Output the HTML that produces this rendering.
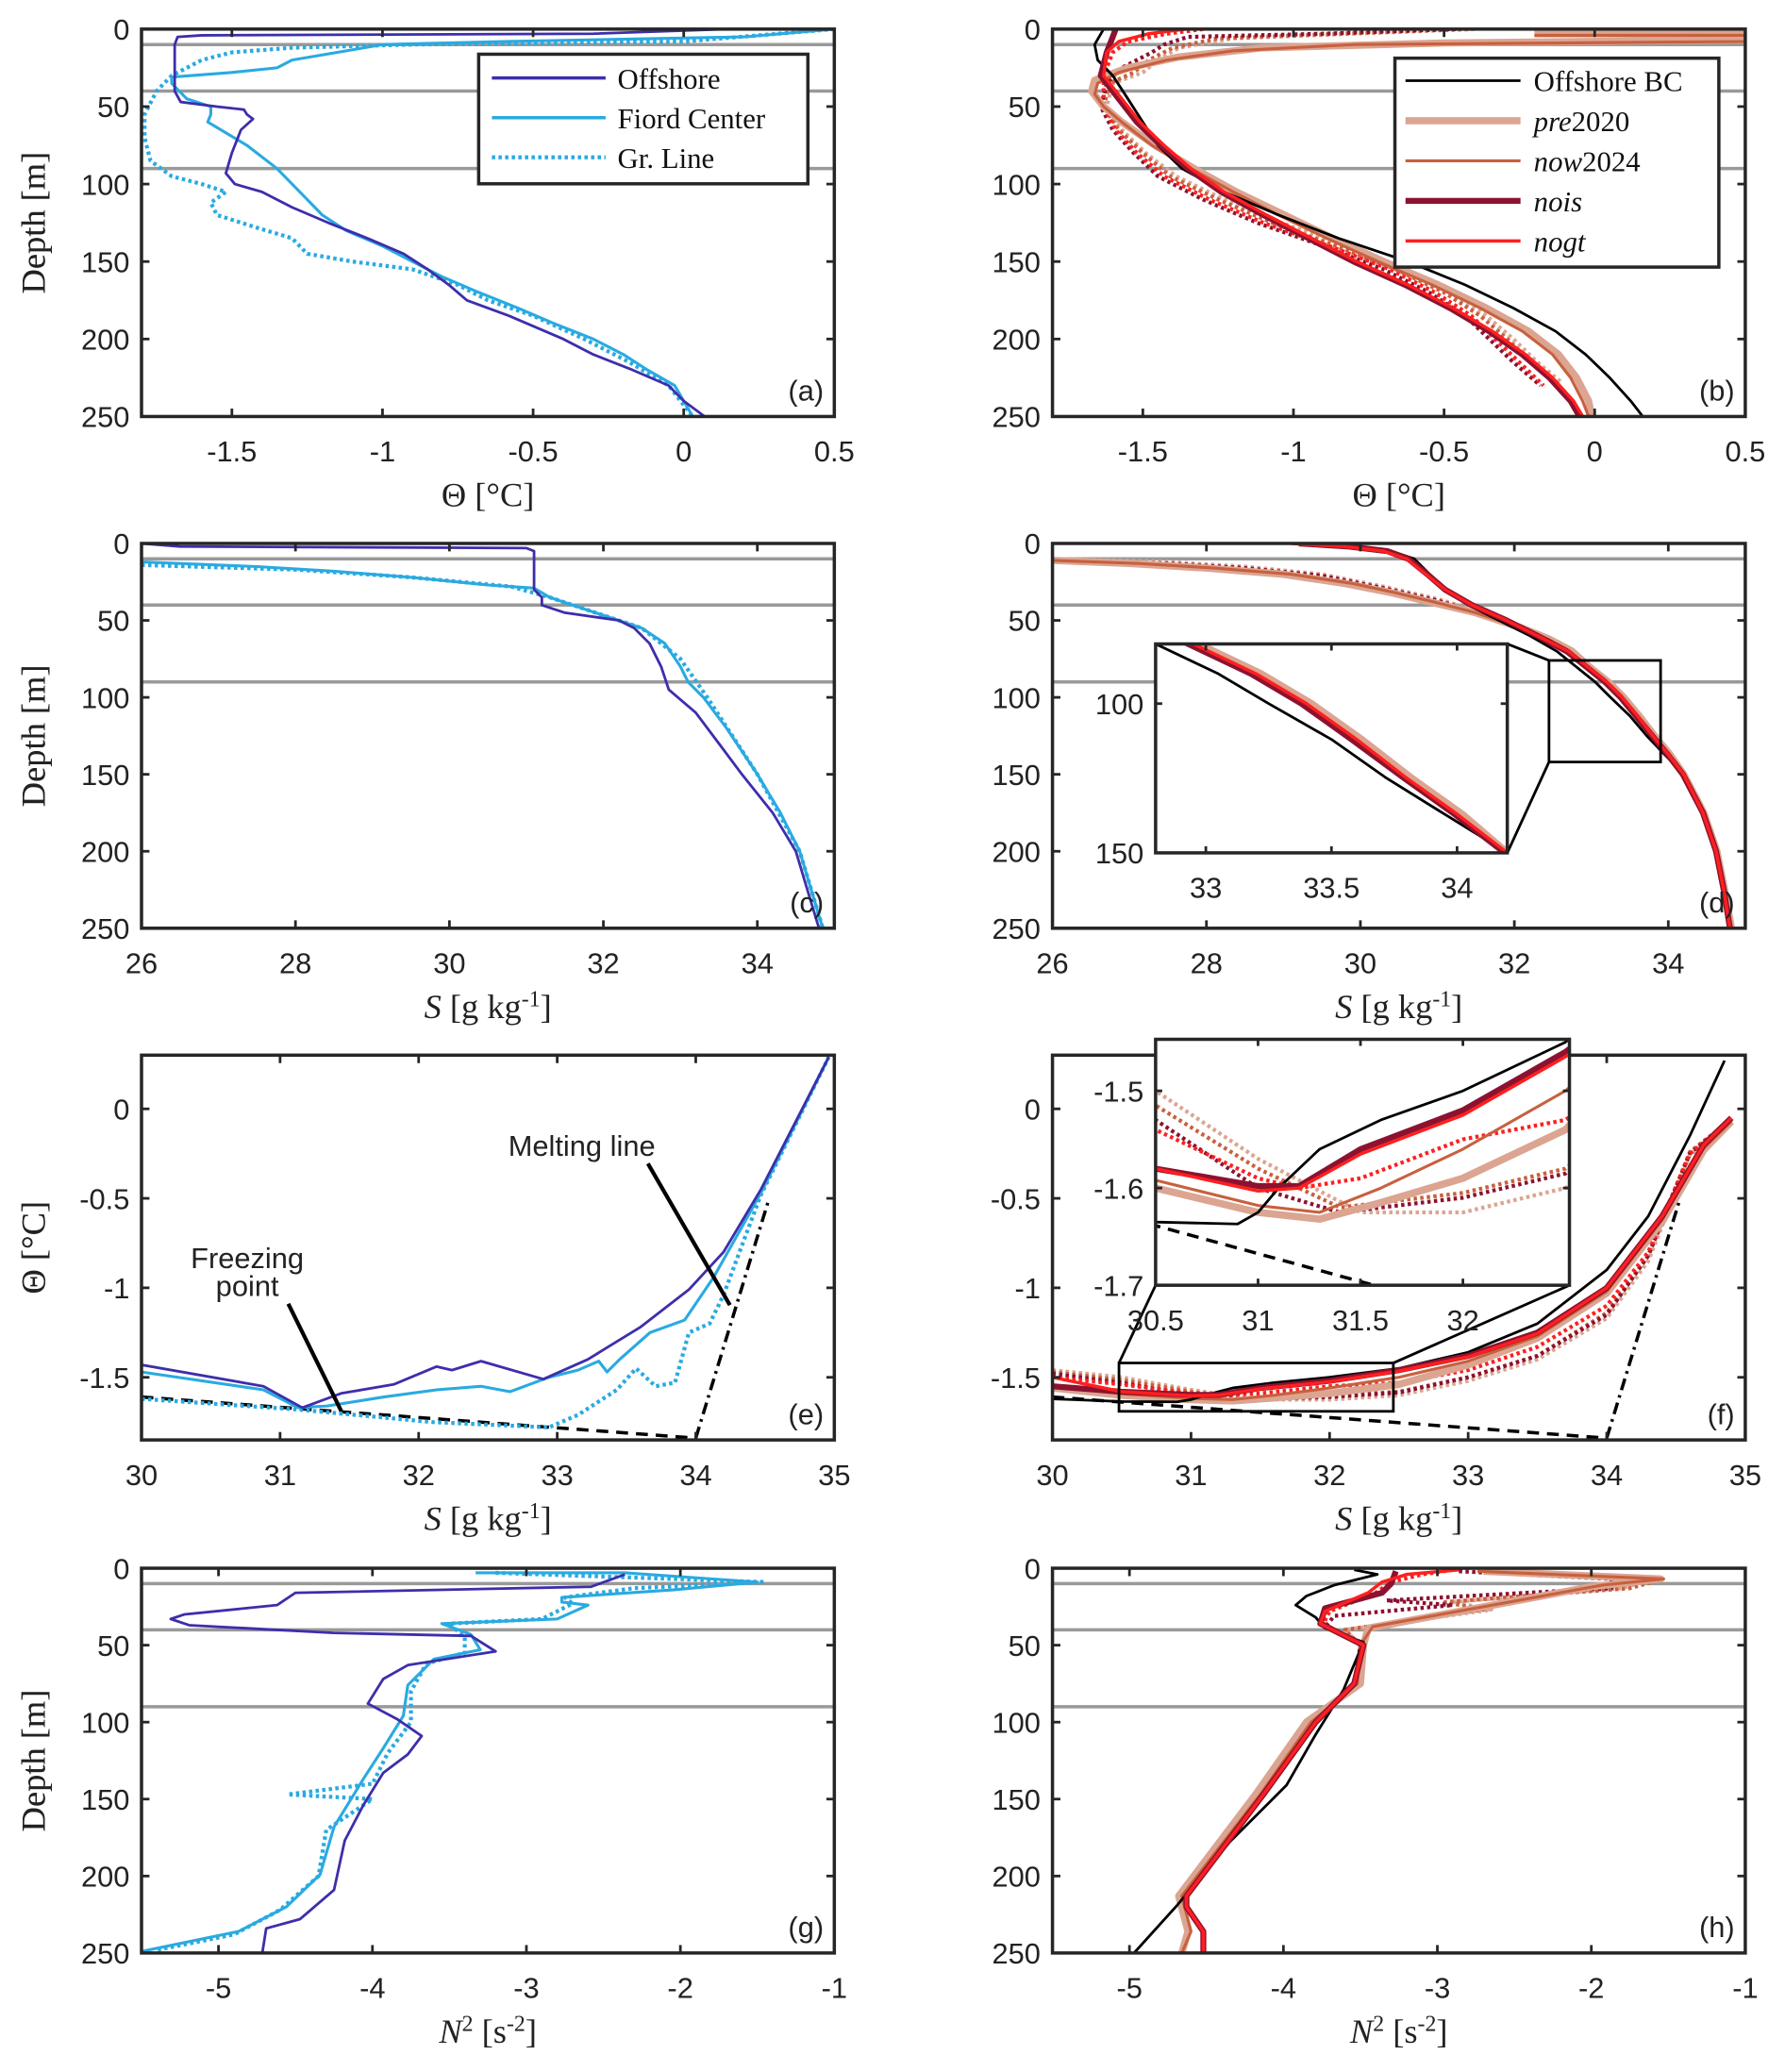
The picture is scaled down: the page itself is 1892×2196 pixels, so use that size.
<!DOCTYPE html>
<html><head><meta charset="utf-8"><style>
html,body{margin:0;padding:0;background:#fff;}
svg{display:block;}
.tk{font-family:"Liberation Sans",sans-serif;font-size:22px;fill:#222;}
.lab{font-family:"Liberation Serif",serif;font-size:26px;fill:#222;}
.lg{font-family:"Liberation Serif",serif;font-size:22px;fill:#111;}
</style></head><body>
<svg id="fig" width="1892" height="2196" viewBox="0 0 1350 1567" xmlns="http://www.w3.org/2000/svg"></svg>
<script>
// ---------- data ----------
const offA=[[0,0.15],[3,-0.3],[4,-1.6],[5,-1.68],[10,-1.69],[40,-1.69],[47,-1.67],[50,-1.55],[52,-1.46],[55,-1.45],[58,-1.43],[65,-1.47],[80,-1.5],[93,-1.52],[100,-1.49],[105,-1.4],[115,-1.3],[125,-1.18],[135,-1.05],[145,-0.93],[155,-0.85],[165,-0.78],[175,-0.72],[185,-0.58],[200,-0.4],[210,-0.3],[220,-0.17],[230,-0.05],[240,0.0],[250,0.07]];
const fioA=[[0,0.5],[5,0.2],[8,-0.6],[10,-1.0],[15,-1.15],[20,-1.3],[25,-1.35],[28,-1.5],[31,-1.7],[35,-1.7],[45,-1.65],[50,-1.57],[55,-1.57],[60,-1.58],[75,-1.45],[90,-1.35],[100,-1.3],[110,-1.25],[120,-1.2],[130,-1.12],[140,-1.0],[150,-0.9],[160,-0.8],[170,-0.68],[180,-0.55],[190,-0.43],[200,-0.3],[210,-0.2],[220,-0.12],[230,-0.03],[250,0.03]];
const grA=[[0,0.5],[8,0.0],[10,-0.9],[12,-1.3],[15,-1.5],[20,-1.6],[30,-1.7],[40,-1.75],[55,-1.79],[70,-1.79],[85,-1.77],[95,-1.7],[100,-1.6],[105,-1.52],[112,-1.57],[120,-1.55],[128,-1.42],[135,-1.3],[145,-1.25],[150,-1.1],[155,-0.9],[165,-0.75],[175,-0.65],[185,-0.5],[200,-0.33],[215,-0.18],[230,-0.05],[250,0.03]];

const blackB=[[0,-1.63],[10,-1.66],[20,-1.65],[30,-1.6],[45,-1.55],[60,-1.5],[75,-1.45],[90,-1.37],[105,-1.23],[120,-1.05],[135,-0.85],[150,-0.62],[165,-0.43],[180,-0.27],[195,-0.13],[210,-0.03],[225,0.05],[240,0.12],[250,0.16]];
const preB=[[3,-0.2],[3,0.5],[7,0.5],[9,-0.5],[12,-1.1],[18,-1.38],[25,-1.55],[33,-1.66],[40,-1.67],[50,-1.63],[60,-1.57],[75,-1.46],[90,-1.33],[105,-1.19],[120,-1.03],[135,-0.87],[150,-0.7],[165,-0.52],[180,-0.36],[195,-0.22],[210,-0.12],[225,-0.06],[240,-0.02],[250,-0.01]];
const nowB=[[4,-0.2],[4,0.5],[8,0.5],[10,-0.8],[14,-1.2],[20,-1.42],[28,-1.58],[35,-1.65],[42,-1.66],[50,-1.63],[60,-1.57],[75,-1.47],[90,-1.34],[105,-1.2],[120,-1.05],[135,-0.89],[150,-0.72],[165,-0.54],[180,-0.38],[195,-0.24],[210,-0.14],[225,-0.08],[240,-0.04],[250,-0.02]];
const noisB=[[0,-1.59],[5,-1.6],[15,-1.62],[30,-1.64],[45,-1.58],[60,-1.52],[75,-1.44],[90,-1.35],[105,-1.24],[120,-1.1],[135,-0.95],[150,-0.8],[165,-0.63],[180,-0.48],[195,-0.35],[210,-0.24],[225,-0.15],[240,-0.08],[250,-0.05]];
const nogtB=[[0,-1.36],[3,-1.48],[8,-1.58],[15,-1.62],[30,-1.63],[45,-1.57],[60,-1.51],[75,-1.43],[90,-1.34],[105,-1.23],[120,-1.09],[135,-0.94],[150,-0.79],[165,-0.62],[180,-0.47],[195,-0.34],[210,-0.23],[225,-0.14],[240,-0.07],[250,-0.04]];
const preDotB=[[0,-0.4],[3,-0.8],[6,-1.2],[12,-1.38],[20,-1.45],[28,-1.5],[35,-1.6],[50,-1.62],[65,-1.57],[80,-1.49],[95,-1.39],[110,-1.23],[125,-1.04],[140,-0.83],[155,-0.63],[170,-0.48],[185,-0.36],[200,-0.27],[215,-0.19],[228,-0.11]];
const nowDotB=[[0,-0.42],[3,-0.85],[6,-1.25],[12,-1.4],[20,-1.48],[28,-1.53],[35,-1.61],[50,-1.63],[65,-1.58],[80,-1.5],[95,-1.41],[110,-1.25],[125,-1.07],[140,-0.86],[155,-0.66],[170,-0.5],[185,-0.38],[200,-0.29],[215,-0.21],[228,-0.13]];
const noisDotB=[[0,-0.46],[3,-0.9],[5,-1.35],[10,-1.43],[15,-1.47],[25,-1.57],[35,-1.62],[50,-1.64],[65,-1.6],[80,-1.53],[95,-1.45],[110,-1.3],[125,-1.12],[140,-0.9],[155,-0.7],[170,-0.55],[185,-0.43],[200,-0.35],[215,-0.27],[230,-0.18]];
const nogtDotB=[[0,-1.3],[3,-1.42],[8,-1.55],[15,-1.6],[25,-1.62],[35,-1.63],[50,-1.63],[65,-1.59],[80,-1.52],[95,-1.43],[110,-1.28],[125,-1.1],[140,-0.88],[155,-0.68],[170,-0.53],[185,-0.41],[200,-0.33],[215,-0.25],[230,-0.17]];

const offC=[[0,26],[2,26.5],[3,31.0],[5,31.1],[30,31.1],[35,31.2],[40,31.2],[45,31.5],[50,32.2],[55,32.4],[65,32.6],[80,32.75],[95,32.85],[110,33.2],[130,33.5],[150,33.8],[175,34.2],[200,34.5],[225,34.65],[250,34.8]];
const fioC=[[12,26],[15,27.5],[18,28.5],[22,29.5],[27,30.5],[29,31.1],[35,31.3],[40,31.6],[50,32.2],[55,32.5],[65,32.8],[80,33.0],[90,33.1],[100,33.3],[120,33.6],[150,34.0],[175,34.3],[200,34.55],[225,34.7],[250,34.85]];
const grC=[[14,26],[17,28],[22,29.5],[28,30.8],[35,31.3],[45,31.9],[55,32.5],[75,33.0],[100,33.35],[150,34.0],[200,34.55],[250,34.85]];

const blackD=[[0,29.4],[2,30.0],[5,30.4],[10,30.7],[20,30.9],[30,31.1],[40,31.4],[50,31.8],[60,32.2],[70,32.55],[80,32.8],[90,33.05],[100,33.25],[112,33.5],[125,33.72],[137,33.95],[150,34.2],[175,34.45],[200,34.6],[225,34.7],[250,34.8]];
const preD=[[11,26],[13,27],[16,28],[20,29],[26,29.8],[32,30.4],[38,30.9],[45,31.5],[55,32.1],[62,32.45],[70,32.75],[80,32.97],[90,33.22],[100,33.42],[112,33.62],[125,33.82],[137,34.02],[150,34.2],[175,34.46],[200,34.63],[225,34.73],[250,34.82]];
const nowD=[[11,26],[13,27.1],[16,28.1],[20,29.1],[26,29.9],[32,30.45],[38,30.95],[45,31.5],[55,32.08],[62,32.43],[70,32.72],[80,32.95],[90,33.2],[100,33.4],[112,33.6],[125,33.8],[137,34.0],[150,34.19],[175,34.45],[200,34.62],[225,34.72],[250,34.8]];
const noisD=[[0,29.2],[2,29.85],[5,30.35],[10,30.62],[20,30.87],[30,31.1],[40,31.45],[50,31.9],[60,32.3],[70,32.68],[80,32.93],[90,33.18],[100,33.38],[112,33.58],[125,33.79],[137,33.99],[150,34.19],[175,34.45],[200,34.62],[225,34.72],[250,34.8]];
const nogtD=[[0,29.1],[2,29.8],[5,30.3],[10,30.6],[20,30.85],[30,31.1],[40,31.45],[50,31.9],[60,32.3],[70,32.7],[80,32.95],[90,33.2],[100,33.4],[112,33.6],[125,33.8],[137,34.0],[150,34.2],[175,34.45],[200,34.62],[225,34.72],[250,34.8]];
const dotD=[[10,26],[12,27.5],[15,28.5],[20,29.5],[28,30.3],[36,31.0],[45,31.6],[55,32.15],[62,32.47],[70,32.76],[80,32.98],[90,33.23],[100,33.43],[112,33.63],[125,33.83],[137,34.03],[150,34.21],[175,34.46],[200,34.63],[225,34.73],[250,34.82]];

const offE=[[30,-1.43],[30.88,-1.55],[31.16,-1.67],[31.44,-1.59],[31.82,-1.54],[32.13,-1.44],[32.24,-1.46],[32.45,-1.41],[32.9,-1.51],[33.22,-1.4],[33.6,-1.22],[33.95,-1.01],[34.2,-0.8],[34.47,-0.45],[34.96,0.29]];
const fioE=[[30,-1.47],[30.88,-1.57],[31.13,-1.67],[31.34,-1.66],[31.75,-1.61],[32.13,-1.57],[32.45,-1.55],[32.66,-1.58],[32.94,-1.5],[33.15,-1.46],[33.3,-1.41],[33.36,-1.47],[33.45,-1.4],[33.67,-1.25],[33.92,-1.18],[34.13,-0.94],[34.47,-0.47],[34.96,0.29]];
const grE=[[30,-1.62],[31.13,-1.68],[32.1,-1.75],[32.94,-1.78],[33.15,-1.71],[33.43,-1.57],[33.57,-1.45],[33.71,-1.55],[33.85,-1.53],[33.95,-1.25],[34.1,-1.2],[34.2,-1.04],[34.34,-0.75],[34.47,-0.48],[34.96,0.29]];
const freezeLine=[[30,-1.61],[34,-1.84]];
const meltLine=[[34,-1.84],[34.53,-0.5]];

const blackF=[[30,-1.62],[30.5,-1.635],[30.9,-1.637],[31.0,-1.625],[31.1,-1.6],[31.3,-1.56],[31.6,-1.53],[32,-1.5],[32.5,-1.45],[33,-1.36],[33.5,-1.2],[34,-0.9],[34.3,-0.6],[34.6,-0.15],[34.85,0.27]];
const preF=[[30,-1.56],[30.5,-1.6],[31,-1.625],[31.3,-1.632],[31.6,-1.615],[32,-1.59],[32.5,-1.54],[33,-1.43],[33.5,-1.28],[34,-1.03],[34.4,-0.63],[34.7,-0.23],[34.9,-0.07]];
const nowF=[[30,-1.55],[30.5,-1.592],[31,-1.618],[31.3,-1.625],[31.6,-1.6],[32,-1.56],[32.5,-1.5],[33,-1.41],[33.5,-1.27],[34,-1.02],[34.4,-0.62],[34.7,-0.22],[34.9,-0.07]];
const noisF=[[30,-1.55],[30.5,-1.58],[31,-1.598],[31.2,-1.598],[31.5,-1.56],[32,-1.52],[32.5,-1.46],[33,-1.38],[33.5,-1.25],[34,-1.0],[34.4,-0.6],[34.7,-0.2],[34.9,-0.05]];
const nogtF=[[30,-1.5],[30.5,-1.58],[31,-1.603],[31.2,-1.6],[31.5,-1.565],[32,-1.525],[32.5,-1.465],[33,-1.385],[33.5,-1.255],[34,-1.0],[34.4,-0.6],[34.7,-0.2],[34.9,-0.05]];
const preDotF=[[30,-1.46],[30.5,-1.5],[31,-1.57],[31.5,-1.625],[32,-1.625],[32.5,-1.6],[33,-1.52],[33.5,-1.4],[34,-1.17],[34.3,-0.85],[34.6,-0.26],[34.9,-0.06]];
const nowDotF=[[30,-1.47],[30.5,-1.515],[31,-1.58],[31.4,-1.62],[32,-1.605],[32.5,-1.58],[33,-1.5],[33.5,-1.38],[34,-1.14],[34.3,-0.82],[34.6,-0.24],[34.9,-0.06]];
const noisDotF=[[30,-1.48],[30.5,-1.53],[31,-1.6],[31.4,-1.625],[32,-1.61],[32.5,-1.585],[33,-1.5],[33.5,-1.38],[34,-1.15],[34.3,-0.82],[34.6,-0.25],[34.9,-0.06]];
const nogtDotF=[[30,-1.5],[30.5,-1.54],[31,-1.59],[31.2,-1.6],[31.5,-1.59],[32,-1.55],[32.5,-1.53],[33,-1.46],[33.5,-1.33],[34,-1.1],[34.3,-0.8],[34.6,-0.25],[34.9,-0.06]];

const offG=[[4,-2.36],[12,-2.58],[16,-4.5],[24,-4.62],[30,-5.22],[33,-5.31],[37,-5.19],[42,-4.25],[44,-3.36],[54,-3.2],[63,-3.77],[72,-3.93],[88,-4.03],[98,-3.84],[109,-3.68],[121,-3.77],[133,-3.93],[154,-4.06],[177,-4.18],[209,-4.25],[228,-4.47],[234,-4.69],[253,-4.72]];
const fioG=[[3,-3.33],[3,-2.36],[9,-1.5],[14,-2.04],[19,-2.77],[22,-2.77],[24,-2.6],[33,-2.8],[36,-3.55],[43,-3.36],[53,-3.3],[59,-3.6],[76,-3.77],[96,-3.8],[117,-3.93],[137,-4.06],[168,-4.25],[199,-4.34],[220,-4.56],[236,-4.87],[249,-5.5]];
const grG=[[3,-3.2],[9,-1.45],[13,-2.3],[19,-2.75],[23,-2.7],[33,-2.9],[36,-3.5],[45,-3.4],[55,-3.4],[62,-3.65],[80,-3.75],[100,-3.75],[120,-3.9],[140,-4.0],[147,-4.55],[150,-4.0],[170,-4.3],[200,-4.35],[222,-4.6],[238,-4.9],[248,-5.4]];

const blackH=[[1,-3.54],[4,-3.39],[11,-3.67],[18,-3.85],[24,-3.92],[32,-3.79],[39,-3.73],[48,-3.48],[79,-3.61],[108,-3.79],[141,-3.98],[178,-4.35],[219,-4.69],[250,-4.97]];
const preH=[[2,-2.7],[7,-1.55],[12,-2.0],[27,-2.8],[39,-3.45],[50,-3.48],[75,-3.5],[100,-3.85],[147,-4.18],[213,-4.68],[236,-4.62],[250,-4.66]];
const nowH=[[2,-2.74],[7,-1.53],[11,-1.93],[25,-2.7],[38,-3.42],[50,-3.5],[75,-3.52],[100,-3.82],[147,-4.15],[213,-4.66],[236,-4.6],[250,-4.66]];
const noisH=[[2,-3.27],[10,-3.3],[16,-3.36],[26,-3.73],[36,-3.76],[50,-3.48],[75,-3.54],[100,-3.79],[147,-4.13],[213,-4.63],[220,-4.63],[236,-4.52],[250,-4.52]];
const nogtH=[[1,-2.86],[4,-3.2],[9,-3.36],[16,-3.45],[28,-3.73],[36,-3.76],[50,-3.48],[75,-3.54],[100,-3.79],[147,-4.13],[213,-4.63],[220,-4.63],[236,-4.52],[250,-4.52]];
const preDotH=[[2,-2.5],[7,-1.6],[13,-1.8],[22,-2.9],[27,-2.65],[40,-3.6],[50,-3.5],[75,-3.52],[100,-3.83],[147,-4.16],[213,-4.66]];
const nowDotH=[[2,-2.6],[7,-1.53],[13,-1.75],[22,-2.95],[27,-2.7],[40,-3.6],[50,-3.5],[75,-3.53],[100,-3.82],[147,-4.15],[213,-4.66]];
const noisDotH=[[2,-2.86],[7,-1.87],[13,-1.87],[21,-3.33],[24,-2.9],[31,-3.67],[37,-3.72],[50,-3.5],[75,-3.54],[100,-3.8],[147,-4.14],[213,-4.64]];
const nogtDotH=[[1,-2.9],[4,-3.1],[9,-3.3],[16,-3.4],[28,-3.7],[36,-3.74],[50,-3.48],[75,-3.54],[100,-3.8],[147,-4.14],[213,-4.64]];

const grayDepths=[10,40,90];
const tickDepth=[0,50,100,150,200,250];
const tickTheta=[-1.5,-1,-0.5,0,0.5];
const tickS=[26,28,30,32,34];
const tickSe=[30,31,32,33,34,35];
const tickTe=[0,-0.5,-1,-1.5];
const tickN=[-5,-4,-3,-2,-1];

// ---------- styles ----------
const C={off:'#3d2eab',fio:'#29aae1',blk:'#000',pre:'#dba592',now:'#c8603e',nois:'#8c1230',nogt:'#ff1f1f'};
const W={off:2,fio:2.2,blk:2,pre:5.5,now:2.2,nois:4.5,nogt:2.5};
const NS='http://www.w3.org/2000/svg';
const svg=document.getElementById('fig');
function el(tag,attrs,parent){const e=document.createElementNS(NS,tag);for(const k in attrs)e.setAttribute(k,attrs[k]);(parent||svg).appendChild(e);return e;}
function fmt(v){return (Math.round(v*100)/100).toString();}
let clipId=0;

function panel(name,x0,x1,y0,y1,xlim,ylim){
  const g=el('g',{});
  
  
  const sx=v=>x0+(v-xlim[0])/(xlim[1]-xlim[0])*(x1-x0);
  const sy=v=>y0+(v-ylim[0])/(ylim[1]-ylim[0])*(y1-y0);
  const id='clip'+(clipId++);
  const cp=el('clipPath',{id:id},g);el('rect',{x:x0,y:y0,width:x1-x0,height:y1-y0},cp);
  const plot=el('g',{'clip-path':'url(#'+id+')'},g);
  
  
  return {g,plot,sx,sy,x0,x1,y0,y1};
}
function frame(p,xt,yt,xlab,ylab,letter,opts){
  opts=opts||{};
  const g=p.g;
  const box=el('rect',{x:p.x0,y:p.y0,width:p.x1-p.x0,height:p.y1-p.y0,fill:'none',stroke:'#262626','stroke-width':2.5},g);
  
  
  const tl=opts.tl||6, fs=opts.fs||22;
  xt.forEach(v=>{const x=p.sx(v);
    el('line',{x1:x,x2:x,y1:p.y1,y2:p.y1-tl,stroke:'#262626','stroke-width':2},g);
    el('line',{x1:x,x2:x,y1:p.y0,y2:p.y0+tl,stroke:'#262626','stroke-width':2},g);
    const t=el('text',{x:x,y:p.y1+fs+12,'text-anchor':'middle',class:'tk','font-size':fs},g);t.textContent=fmt(v);
    
    });
  yt.forEach(v=>{const y=p.sy(v);
    el('line',{x1:p.x0,x2:p.x0+tl,y1:y,y2:y,stroke:'#262626','stroke-width':2},g);
    el('line',{x1:p.x1,x2:p.x1-tl,y1:y,y2:y,stroke:'#262626','stroke-width':2},g);
    const t=el('text',{x:p.x0-9,y:y+8,'text-anchor':'end',class:'tk','font-size':fs},g);t.textContent=fmt(v);
    
    });
  if(xlab){const t=el('text',{x:(p.x0+p.x1)/2,y:p.y1+68,'text-anchor':'middle',class:'lab'},g);t.innerHTML=xlab;
    
    }
  if(ylab){const cy=(p.y0+p.y1)/2;const t=el('text',{x:28,y:cy,transform:'rotate(-90 28 '+cy+')','text-anchor':'middle',class:'lab','dominant-baseline':'middle'},g);t.innerHTML=ylab;
    
    }
  if(letter){const t=el('text',{x:p.x1-8,y:p.y1-12,'text-anchor':'end',class:'tk','font-size':23},g);t.textContent=letter;
    
    }
}
// depth profile: data [depth,val]
function lineD(p,data,key,name,dash,target){
  const pts=data.map(d=>p.sx(d[1]).toFixed(1)+','+p.sy(d[0]).toFixed(1)).join(' ');
  const l=el('polyline',{points:pts,fill:'none',stroke:C[key],'stroke-width':dash?3:W[key],'stroke-dasharray':dash?'2.5,2.5':'none','stroke-linejoin':'round'},target||p.plot);
  
  
}
// TS: data [S,theta]
function lineTS(p,data,key,name,dash,target,sw){
  const pts=data.map(d=>p.sx(d[0]).toFixed(1)+','+p.sy(d[1]).toFixed(1)).join(' ');
  const l=el('polyline',{points:pts,fill:'none',stroke:C[key],'stroke-width':sw||(dash?3:W[key]),'stroke-dasharray':dash?(dash===true?'2.5,2.5':dash):'none','stroke-linejoin':'round'},target||p.plot);
  
  
}
function grays(p){grayDepths.forEach(d=>{const l=el('line',{x1:p.x0,x2:p.x1,y1:p.sy(d),y2:p.sy(d),stroke:'#999','stroke-width':2.5},p.plot);
  
  });}

const depthLab='Depth [m]';
const thLab='Θ [°C]';
const sLab='<tspan font-style="italic">S</tspan> [g kg<tspan dy="-9" font-size="17">-1</tspan><tspan dy="9">]</tspan>';
const nLab='<tspan font-style="italic">N</tspan><tspan dy="-9" font-size="17">2</tspan><tspan dy="9"> [s</tspan><tspan dy="-9" font-size="17">-2</tspan><tspan dy="9">]</tspan>';

// ----- (a)
const pa=panel('panel-a',107,631,22,315,[-1.8,0.5],[0,250]);
grays(pa);
lineD(pa,grA,'fio','gr-line-theta',true);
lineD(pa,fioA,'fio','fiord-center-theta');
lineD(pa,offA,'off','offshore-theta');
frame(pa,tickTheta,tickDepth,thLab,depthLab,'(a)');
// legend a
(function(){const g=el('g',{});
 el('rect',{x:362,y:41,width:249,height:98,fill:'#fff',stroke:'#262626','stroke-width':2.5},g);
 [['Offshore','off',false],['Fiord Center','fio',false],['Gr. Line','fio',true]].forEach((e,i)=>{const y=59+i*30;
  const l=el('line',{x1:372,x2:458,y1:y,y2:y,stroke:C[e[1]],'stroke-width':e[2]?3:2.5,'stroke-dasharray':e[2]?'2.5,2.5':'none'},g);
  
  const t=el('text',{x:467,y:y+8,class:'lg'},g);t.textContent=e[0];
  });})();

// ----- (b)
const pb=panel('panel-b',796,1320,22,315,[-1.8,0.5],[0,250]);
grays(pb);
lineD(pb,preDotB,'pre','pre2020-fjord-theta',true);
lineD(pb,nowDotB,'now','now2024-fjord-theta',true);
lineD(pb,noisDotB,'nois','nois-fjord-theta',true);
lineD(pb,nogtDotB,'nogt','nogt-fjord-theta',true);
lineD(pb,preB,'pre','pre2020-theta');
lineD(pb,nowB,'now','now2024-theta');
lineD(pb,blackB,'blk','offshore-bc-theta');
lineD(pb,noisB,'nois','nois-theta');
lineD(pb,nogtB,'nogt','nogt-theta');
frame(pb,tickTheta,tickDepth,thLab,depthLab,'(b)');
(function(){const g=el('g',{});
 el('rect',{x:1055,y:44,width:245,height:158,fill:'#fff',stroke:'#262626','stroke-width':2.5},g);
 [['Offshore BC','blk',''],['pre','pre','2020'],['now','now','2024'],['nois','nois',''],['nogt','nogt','']].forEach((e,i)=>{const y=61+i*30.3;
  const l=el('line',{x1:1063,x2:1150,y1:y,y2:y,stroke:C[e[1]],'stroke-width':W[e[1]]},g);
  
  const t=el('text',{x:1160,y:y+8,class:'lg'},g);
  if(i===0)t.textContent=e[0];else t.innerHTML='<tspan font-style="italic">'+e[0]+'</tspan>'+e[2];
  });})();

// ----- (c)
const pc=panel('panel-c',107,631,411,702,[26,35],[0,250]);
grays(pc);
lineD(pc,grC,'fio','gr-line-salinity',true);
lineD(pc,fioC,'fio','fiord-center-salinity');
lineD(pc,offC,'off','offshore-salinity');
frame(pc,tickS,tickDepth,sLab,depthLab,'(c)');

// ----- (d)
const pd=panel('panel-d',796,1320,411,702,[26,35],[0,250]);
grays(pd);
function drawD(p,target,scale){
  const s=scale||1;
  [['pre',dotD,true],['now',dotD,true]].forEach(()=>{});
  lineD(p,dotD,'pre','pre2020-fjord-salinity',true,target);
  lineD(p,dotD.map(d=>[d[0]+1,d[1]]),'nois','nois-fjord-salinity',true,target);
  lineD(p,preD,'pre','pre2020-salinity',false,target);
  lineD(p,nowD,'now','now2024-salinity',false,target);
  lineD(p,blackD,'blk','offshore-bc-salinity',false,target);
  lineD(p,noisD,'nois','nois-salinity',false,target);
  lineD(p,nogtD,'nogt','nogt-salinity',false,target);
}
drawD(pd);
frame(pd,tickS,tickDepth,sLab,depthLab,'(d)');
// zoom rect d
(function(){const x1=pd.sx(32.45),x2=pd.sx(33.9),y1=pd.sy(76),y2=pd.sy(142);
 const r=el('rect',{x:x1,y:y1,width:x2-x1,height:y2-y1,fill:'none',stroke:'#000','stroke-width':2});
 
 el('line',{x1:1140,y1:487,x2:x1,y2:y1,stroke:'#000','stroke-width':2});
 el('line',{x1:1140,y1:645,x2:x1,y2:y2,stroke:'#000','stroke-width':2});})();
const pdi=panel('inset-d',874,1140,487,645,[32.8,34.2],[80,150]);
el('rect',{x:874,y:487,width:266,height:158,fill:'#fff'},pdi.plot);
drawD(pdi);
frame(pdi,[33,33.5,34],[100,150],null,null,null,{tl:5});

// ----- (e)
const pe=panel('panel-e',107,631,798,1089,[30,35],[0.3,-1.85]);
lineTS(pe,freezeLine,'blk','freezing-line','9,6',null,2.5);
lineTS(pe,grE,'fio','gr-line-ts',true);
lineTS(pe,fioE,'fio','fiord-center-ts');
lineTS(pe,offE,'off','offshore-ts');
lineTS(pe,meltLine,'blk','melting-line','9,4,2,4',null,2.5);
frame(pe,tickSe,tickTe,sLab,thLab,'(e)');
(function(){
 const t1=el('text',{x:440,y:874,'text-anchor':'middle',class:'tk','font-size':22});t1.textContent='Melting line';
 
 el('line',{x1:490,y1:880,x2:552,y2:987,stroke:'#000','stroke-width':3});
 const t2=el('text',{x:187,y:959,'text-anchor':'middle',class:'tk','font-size':22});t2.textContent='Freezing';
 
 const t3=el('text',{x:187,y:980,'text-anchor':'middle',class:'tk','font-size':22});t3.textContent='point';
 
 el('line',{x1:218,y1:986,x2:258,y2:1067,stroke:'#000','stroke-width':3});})();

// ----- (f)
const pf=panel('panel-f',796,1320,798,1089,[30,35],[0.3,-1.85]);
function drawF(p,target){
  lineTS(p,freezeLine,'blk','freezing-line','9,6',target,2.5);
  lineTS(p,meltLine,'blk','melting-line','9,4,2,4',target,2.5);
  lineTS(p,preDotF,'pre','pre2020-fjord-ts',true,target);
  lineTS(p,nowDotF,'now','now2024-fjord-ts',true,target);
  lineTS(p,noisDotF,'nois','nois-fjord-ts',true,target);
  lineTS(p,nogtDotF,'nogt','nogt-fjord-ts',true,target);
  lineTS(p,preF,'pre','pre2020-ts',false,target);
  lineTS(p,nowF,'now','now2024-ts',false,target);
  lineTS(p,blackF,'blk','offshore-bc-ts',false,target);
  lineTS(p,noisF,'nois','nois-ts',false,target);
  lineTS(p,nogtF,'nogt','nogt-ts',false,target);
}
drawF(pf);
frame(pf,tickSe,tickTe,sLab,thLab,'(f)');
(function(){const x1=pf.sx(30.48),x2=pf.sx(32.46),y1=pf.sy(-1.42),y2=pf.sy(-1.69);
 const r=el('rect',{x:x1,y:y1,width:x2-x1,height:y2-y1,fill:'none',stroke:'#000','stroke-width':2});
 
 el('line',{x1:874,y1:972,x2:x1,y2:y1,stroke:'#000','stroke-width':2});
 el('line',{x1:1187,y1:972,x2:x2,y2:y1,stroke:'#000','stroke-width':2});})();
const pfi=panel('inset-f',874,1187,786,972,[30.5,32.52],[-1.447,-1.7]);
el('rect',{x:874,y:786,width:313,height:186,fill:'#fff'},pfi.plot);
drawF(pfi);
frame(pfi,[30.5,31,31.5,32],[-1.5,-1.6,-1.7],null,null,null,{tl:5});

// ----- (g)
const pg=panel('panel-g',107,631,1186,1477,[-5.5,-1],[0,250]);
grays(pg);
lineD(pg,grG,'fio','gr-line-n2',true);
lineD(pg,fioG,'fio','fiord-center-n2');
lineD(pg,offG,'off','offshore-n2');
frame(pg,tickN,tickDepth,nLab,depthLab,'(g)');

// ----- (h)
const ph=panel('panel-h',796,1320,1186,1477,[-5.5,-1],[0,250]);
grays(ph);
lineD(ph,preDotH,'pre','pre2020-fjord-n2',true);
lineD(ph,nowDotH,'now','now2024-fjord-n2',true);
lineD(ph,noisDotH,'nois','nois-fjord-n2',true);
lineD(ph,nogtDotH,'nogt','nogt-fjord-n2',true);
lineD(ph,preH,'pre','pre2020-n2');
lineD(ph,nowH,'now','now2024-n2');
lineD(ph,blackH,'blk','offshore-bc-n2');
lineD(ph,noisH,'nois','nois-n2');
lineD(ph,nogtH,'nogt','nogt-n2');
frame(ph,tickN,tickDepth,nLab,depthLab,'(h)');
</script>
</body></html>
